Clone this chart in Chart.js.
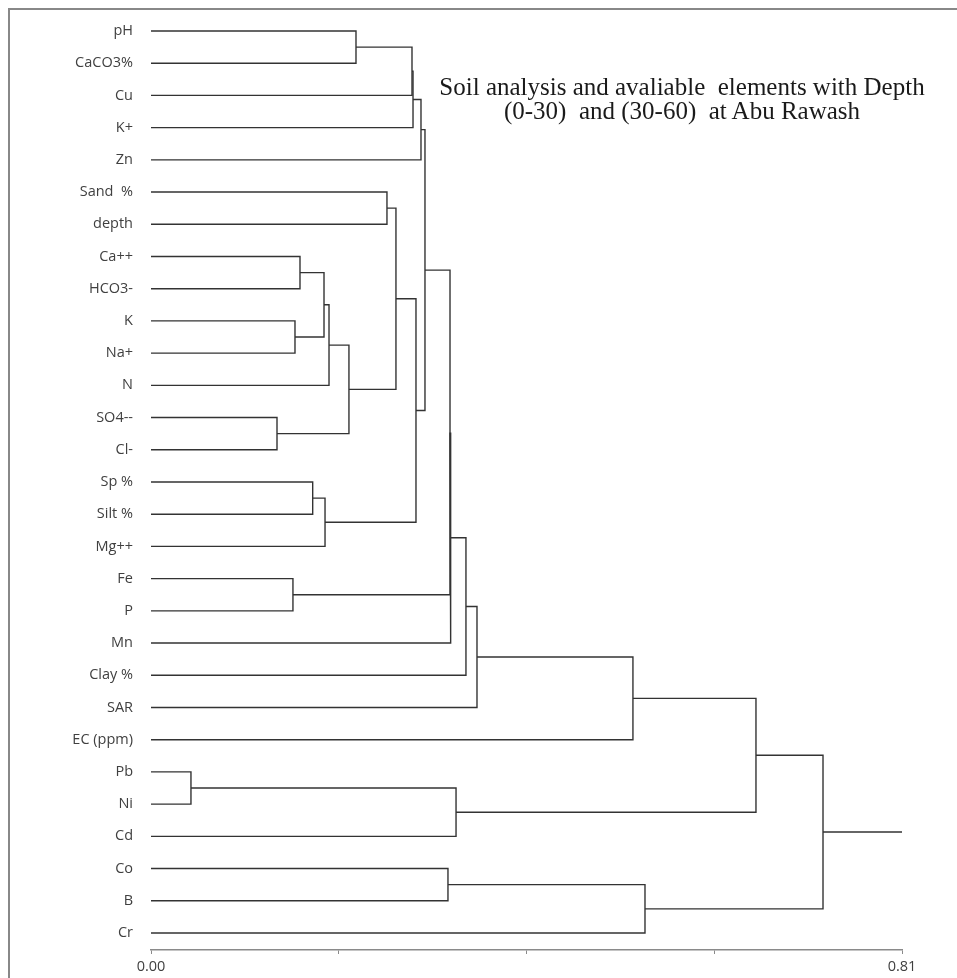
<!DOCTYPE html>
<html>
<head>
<meta charset="utf-8">
<script src="https://cdn.jsdelivr.net/npm/chart.js@4.4.1/dist/chart.umd.min.js"></script>
<style>
  body { margin: 0; background: #fff; }
  #wrap { position: relative; width: 957px; height: 978px; }
  #frame { position: absolute; left: 8px; top: 8px; width: 960px; height: 980px;
           border-left: 2px solid #888; border-top: 2px solid #888; box-sizing: border-box; }
  #title { position: absolute; left: 332px; top: 75px; width: 700px; text-align: center;
           font-family: "Liberation Serif", "Times New Roman", serif; font-size: 25px;
           line-height: 24px; color: #1a1a1a; white-space: pre; }
</style>
</head>
<body>
<div id="wrap">
  <canvas id="dendro" width="957" height="978"></canvas>
  <div id="frame"></div>
  <div id="title">Soil analysis and avaliable  elements with Depth
(0-30)  and (30-60)  at Abu Rawash</div>
</div>
<script>
// leaves, top to bottom
const leafLabels = ['pH', 'CaCO3%', 'Cu', 'K+', 'Zn', 'Sand  %', 'depth', 'Ca++', 'HCO3-', 'K',
  'Na+', 'N', 'SO4--', 'Cl-', 'Sp %', 'Silt %', 'Mg++', 'Fe', 'P', 'Mn', 'Clay %', 'SAR',
  'EC (ppm)', 'Pb', 'Ni', 'Cd', 'Co', 'B', 'Cr'];

// merge steps: '#n' refers to the cluster made at step n
const mergeLeft = ['Pb', 'SO4--', 'Fe', 'K', 'Ca++', 'Sp %', '#4', '#5', '#6', '#8',
  'pH', 'Sand  %', '#11', '#10', '#13', '#12', '#14', '#16', 'Co', '#17',
  '#19', '#0', '#20', '#22', '#23', '#18', '#24', '#26'];
const mergeRight = ['Ni', 'Cl-', 'P', 'Na+', 'HCO3-', 'Silt %', '#3', 'Mg++', 'N', '#1',
  'CaCO3%', 'depth', '#9', 'Cu', 'K+', '#7', 'Zn', '#15', 'B', '#2',
  'Mn', 'Cd', 'Clay %', 'SAR', 'EC (ppm)', 'Cr', '#21', '#25'];
const mergeHeight = [0.0431, 0.1359, 0.1531, 0.1553, 0.1607, 0.1744, 0.1866, 0.1877, 0.1920, 0.2135,
  0.2211, 0.2545, 0.2642, 0.2815, 0.2826, 0.2858, 0.2912, 0.2955, 0.3203, 0.3225,
  0.3232, 0.3290, 0.3397, 0.3516, 0.5198, 0.5328, 0.6525, 0.7248];

const axisMax = 0.81;
const axisTicks = [0, 0.2025, 0.405, 0.6075, 0.81];

// position of a leaf or cluster: x = height, y = row
function nodePos(id, nodes) {
  if (id.startsWith('#')) return nodes[parseInt(id.slice(1))];
  return { x: 0, y: leafLabels.indexOf(id) };
}

function buildLinks() {
  const nodes = [];
  const datasets = [];
  mergeHeight.forEach((h, i) => {
    const a = nodePos(mergeLeft[i], nodes);
    const b = nodePos(mergeRight[i], nodes);
    nodes.push({ x: h, y: (a.y + b.y) / 2 });
    datasets.push({
      data: [{ x: a.x, y: a.y }, { x: h, y: a.y }, { x: h, y: b.y }, { x: b.x, y: b.y }]
    });
  });
  // stub from the root to the axis end
  const root = nodes[nodes.length - 1];
  datasets.push({ data: [{ x: root.x, y: root.y }, { x: axisMax, y: root.y }] });
  return datasets.map(d => Object.assign(d, {
    showLine: true,
    borderColor: '#333333',
    borderWidth: 1.4,
    pointRadius: 0,
    fill: false,
    tension: 0
  }));
}

const labelFont = { family: "'Open Sans', sans-serif", size: 14.5 };

new Chart(document.getElementById('dendro').getContext('2d'), {
  type: 'scatter',
  data: { datasets: buildLinks() },
  options: {
    responsive: false,
    animation: false,
    devicePixelRatio: 1,
    layout: { padding: { left: 0, right: 55, top: 8, bottom: 0 } },
    plugins: { legend: { display: false }, tooltip: { enabled: false } },
    scales: {
      x: {
        type: 'linear',
        min: 0,
        max: axisMax,
        afterBuildTicks: (scale) => { scale.ticks = axisTicks.map(v => ({ value: v })); },
        afterFit: (scale) => { scale.height = 28; },
        grid: { drawOnChartArea: false, drawTicks: true, tickLength: 4, color: '#8a8a8a' },
        border: { display: true, color: '#8a8a8a', width: 1.5 },
        ticks: {
          padding: 4,
          color: '#404040',
          font: labelFont,
          autoSkip: false,
          maxRotation: 0,
          callback: (v, i) => (i === 0 || i === axisTicks.length - 1) ? v.toFixed(2) : ''
        }
      },
      y: {
        type: 'linear',
        reverse: true,
        min: -0.133,
        max: 28.528,
        afterBuildTicks: (scale) => { scale.ticks = leafLabels.map((_, i) => ({ value: i })); },
        afterFit: (scale) => { scale.width = 151; },
        grid: { display: false, drawTicks: false },
        border: { display: false },
        ticks: {
          padding: 18,
          color: '#404040',
          font: labelFont,
          autoSkip: false,
          callback: (v) => leafLabels[v]
        }
      }
    }
  }
});
</script>
</body>
</html>
